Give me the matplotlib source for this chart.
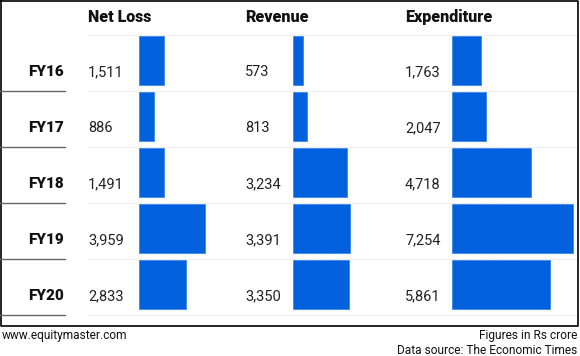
import matplotlib.pyplot as plt

years = ["FY16", "FY17", "FY18", "FY19", "FY20"]
net_loss = [1511, 886, 1491, 3959, 2833]
revenue = [573, 813, 3234, 3391, 3350]
expenditure = [1763, 2047, 4718, 7254, 5861]
headers = ["Net Loss", "Revenue", "Expenditure"]

W, H = 580, 356
BLUE = "#0160DC"
FONT = "Roboto"

fig = plt.figure(figsize=(W / 100, H / 100), dpi=100)

# overlay axes in pixel units for text and lines
ax = fig.add_axes([0, 0, 1, 1])
ax.set_xlim(0, W)
ax.set_ylim(H, 0)
ax.axis("off")

# frame
ax.plot([0.5, 578, 578, 0.5, 0.5], [1, 1, 326, 326, 1], color="black", lw=1.2)

top, pitch = 35, 56
text_x = [88, 245, 405]
bar_x = [139, 293, 452]

for x, h in zip(text_x, headers):
    ax.text(x, 17, h, fontsize=11.5, fontweight="black", family=FONT,
            ha="left", va="center", color="#111111")

for i in range(len(years) + 1):
    y = top + pitch * i
    ax.plot([88, 577], [y, y], color="#e0e0e0", lw=0.9, ls=(0, (1, 1.2)))
    if i > 0:
        ax.plot([0, 65], [y, y], color="#666666", lw=1.0)

series = [net_loss, revenue, expenditure]
for i, yr in enumerate(years):
    yc = top + pitch * i + 37
    ax.text(64, yc, yr, fontsize=11, fontweight="black", family=FONT,
            ha="right", va="center", color="#111111")
    for x, vals in zip(text_x, series):
        ax.text(x, yc, f"{vals[i]:,}", fontsize=10.5, family=FONT,
                ha="left", va="center", color="#222222")

# bars, one axes per column with a common scale of ~60 crore per pixel
span = 125
for x0, vals in zip(bar_x, series):
    bax = fig.add_axes([x0 / W, 1 - 315 / H, span / W, 280 / H])
    bax.barh(range(len(years)), vals, height=0.875, left=0, color=BLUE,
             edgecolor="#3a86ee", lw=0.6)
    bax.set_xlim(0, span * 60)
    bax.set_ylim(len(years) - 0.5 + 0.045, -0.5 + 0.045)
    bax.axis("off")

ax.text(2, 336, "www.equitymaster.com", fontsize=8.6, family=FONT,
        ha="left", va="center", color="#111111")
ax.text(577, 336, "Figures in Rs crore", fontsize=8.6, family=FONT,
        ha="right", va="center", color="#111111")
ax.text(577, 350, "Data source: The Economic Times", fontsize=8.6, family=FONT,
        ha="right", va="center", color="#111111")

fig.savefig("out.png", dpi=100, facecolor="white")
